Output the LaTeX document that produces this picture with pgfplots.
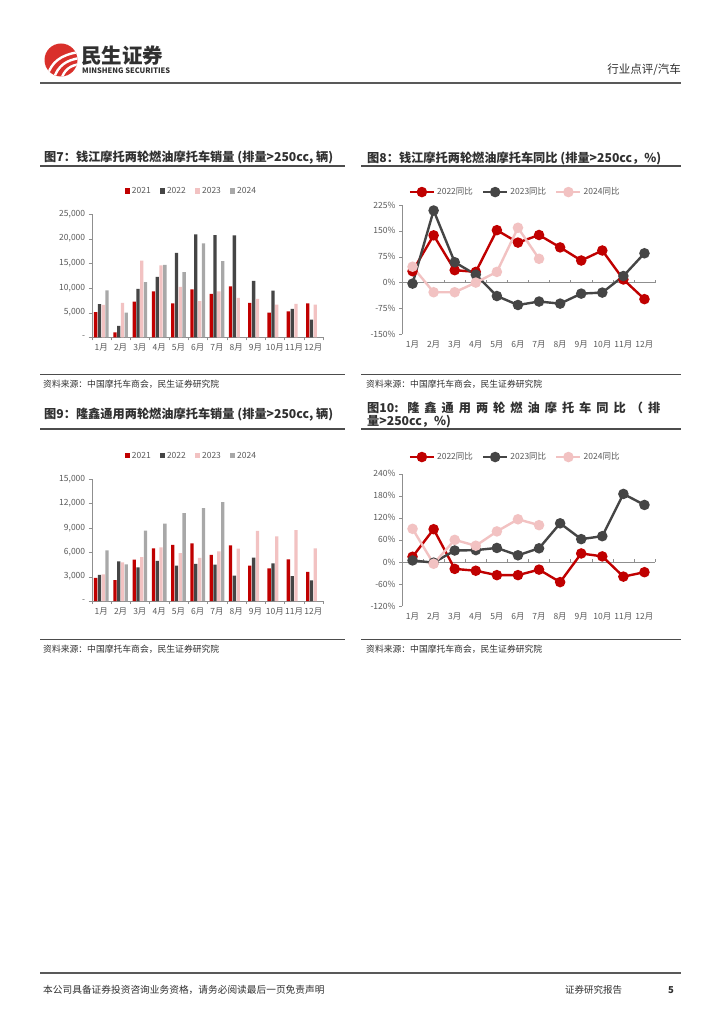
\documentclass[border=0pt]{standalone}
\usepackage{fontspec}
\setmainfont{Noto Sans CJK SC}
\usepackage{graphicx}
\usepackage{pgfplots}
\usepackage{pgfplotstable}
\pgfplotsset{compat=1.18}
\definecolor{cred}{HTML}{C00000}
\definecolor{cdark}{HTML}{454545}
\definecolor{cpink}{HTML}{F2C2C2}
\definecolor{cgray}{HTML}{A8A8A8}
\definecolor{txt}{HTML}{595959}
\definecolor{axc}{HTML}{8F8F8F}
\definecolor{ttl}{HTML}{303030}
\definecolor{logored}{HTML}{D9302B}

\pgfplotstableread{
m a b c d
1 5100 6750 6550 9530
2 1000 2300 6960 5000
3 7230 9800 15540 11200
4 9320 12230 14600 14660
5 6900 17100 10200 13240
6 9730 20880 7360 19050
7 8780 20740 9320 15470
8 10340 20680 7970 nan
9 6960 11420 7770 nan
10 5000 9460 6620 nan
11 5270 5740 6760 nan
12 6900 3580 6620 nan
}\qjbar

\pgfplotstableread{
m a b c d
1 2830 3200 3280 6230
2 2580 4880 4750 4510
3 5080 4140 5410 8650
4 6480 4920 6600 9510
5 6890 4340 5900 10820
6 7090 4550 5290 11430
7 5660 4470 6110 12170
8 6840 3110 6430 nan
9 4340 5330 8610 nan
10 4020 4630 7950 nan
11 5120 3070 8730 nan
12 3570 2540 6480 nan
}\lxbar

\pgfplotstableread{
m a b c
1 33 -3 46
2 137 209 -28
3 36 59 -28
4 31 23 0
5 152 -39 31
6 116 -65 159
7 138 -55 69
8 102 -61 nan
9 64 -32 nan
10 93 -29 nan
11 9 19 nan
12 -48 85 nan
}\qjline

\pgfplotstableread{
m a b c
1 14 4 90
2 89 -2 -5
3 -19 31 60
4 -24 32 44
5 -36 38 83
6 -36 18 116
7 -21 37 100
8 -55 105 nan
9 23 62 nan
10 15 70 nan
11 -40 185 nan
12 -28 155 nan
}\lxline

\pgfplotsset{
  common/.style={
    scale only axis,
    xmin=0.5, xmax=12.5,
    axis y line=left, axis x line=bottom,
    scaled y ticks=false,
    xtick={1,...,12},
    xticklabels={1月,2月,3月,4月,5月,6月,7月,8月,9月,10月,11月,12月},
    tick label style={font=\fontsize{8.5}{9}\selectfont, text=txt},
    tick align=outside,
    major tick length=3pt,
    major x tick style={draw=none},
    ytick style={draw=axc},
    legend style={draw=none, fill=none, font=\fontsize{8.5}{9}\selectfont, text=txt,
      legend columns=-1, anchor=center,
      /tikz/every even column/.append style={column sep=7pt}},
  },
  barchart/.style={common,
    width=231.3pt,
    ymin=0,
    axis line style={draw=axc,-},
    minor xtick={0.5,1.5,...,12.5},
    minor tick length=3pt,
    minor x tick style={draw=axc},
    ybar=0.5pt, bar width=3.3pt,
    legend image code/.code={\fill[##1] (0pt,-2.6pt) rectangle (5.2pt,2.6pt);},
  },
  linechart/.style={common,
    width=253pt,
    x axis line style={draw=none},
    y axis line style={draw=axc,-},
    clip=false,
    legend image code/.code={
      \draw[##1,mark=none] (0pt,0pt) -- (24pt,0pt);
      \draw[##1,only marks] plot coordinates {(12pt,0pt)};},
  },
  lsty/.style={color=#1, line width=2.4pt, mark=*, mark size=4pt, mark options={solid,fill=#1,draw=#1}},
}

\newcommand{\ttlfont}{\fontsize{12.2}{13}\selectfont\bfseries}
\newcommand{\srcfont}{\fontsize{8.8}{10}\selectfont}

\begin{document}
\begin{tikzpicture}[x=1pt,y=1pt]
\useasboundingbox[fill=white] (0,0) rectangle (724,-1024);

% ---------- header ----------
\fill[logored] (61,-60) circle (16.5);
\begin{scope}
\clip (61,-60) circle (16.5);
\draw[white, line width=2.4] (47,-76) .. controls (52,-62) and (60,-55) .. (79,-52);
\draw[white, line width=2.4] (54,-78) .. controls (58,-66) and (66,-60) .. (80,-58);
\draw[white, line width=2.4] (61,-80) .. controls (64,-70) and (70,-65) .. (81,-64);
\end{scope}
\node[anchor=west, inner sep=0, text=ttl, font=\fontsize{20.5}{22}\selectfont\bfseries] at (81,-56) {民生证券};
\node[anchor=west, inner sep=0, text=ttl] at (82,-71) {\resizebox{88pt}{!}{\fontsize{7}{8}\selectfont\bfseries MINSHENG SECURITIES}};
\node[anchor=east, inner sep=0, text=ttl, font=\fontsize{11.5}{12}\selectfont] at (681,-70) {行业点评/汽车};
\draw[line width=1.2, black!65] (40,-83) -- (681,-83);

% ---------- footer ----------
\draw[line width=1.2, black!65] (40,-973) -- (681,-973);
\node[anchor=west, inner sep=0, text=ttl, font=\fontsize{9.7}{10}\selectfont] at (43,-990) {本公司具备证券投资咨询业务资格，请务必阅读最后一页免责声明};
\node[anchor=west, inner sep=0, text=ttl, font=\fontsize{9.5}{10}\selectfont] at (565,-990) {证券研究报告};
\node[anchor=center, inner sep=0, text=ttl, font=\fontsize{9.5}{10}\selectfont\bfseries] at (671,-990) {5};

% ---------- titles and sources ----------
\node[anchor=west, inner sep=0, text=ttl, font=\ttlfont] at (44,-158) {图7：钱江摩托两轮燃油摩托车销量 (排量>250cc, 辆)};
\draw[line width=1.3, black!70] (40,-166) -- (345,-166);
\node[anchor=west, inner sep=0, text=ttl, font=\ttlfont] at (367,-158) {图8：钱江摩托两轮燃油摩托车同比 (排量>250cc，\%)};
\draw[line width=1.3, black!70] (361,-166) -- (681,-166);
\draw[line width=0.9, black!70] (40,-374) -- (345,-374);
\node[anchor=west, inner sep=0, text=ttl, font=\srcfont] at (43,-384) {资料来源：中国摩托车商会，民生证券研究院};
\draw[line width=0.9, black!70] (361,-374) -- (681,-374);
\node[anchor=west, inner sep=0, text=ttl, font=\srcfont] at (366,-384) {资料来源：中国摩托车商会，民生证券研究院};

\node[anchor=west, inner sep=0, text=ttl, font=\ttlfont] at (44,-415) {图9：隆鑫通用两轮燃油摩托车销量 (排量>250cc, 辆)};
\draw[line width=1.3, black!70] (40,-429) -- (345,-429);
\node[anchor=west, inner sep=0, text=ttl, font=\ttlfont] at (367,-408) {\makebox[293pt][s]{图10: \hfill 隆\hfill 鑫\hfill 通\hfill 用\hfill 两\hfill 轮\hfill 燃\hfill 油\hfill 摩\hfill 托\hfill 车\hfill 同\hfill 比\hfill （\hfill 排}};
\node[anchor=west, inner sep=0, text=ttl, font=\ttlfont] at (367,-422) {量>250cc，\%)};
\draw[line width=1.3, black!70] (361,-429) -- (681,-429);
\draw[line width=0.9, black!70] (40,-639) -- (345,-639);
\node[anchor=west, inner sep=0, text=ttl, font=\srcfont] at (43,-649) {资料来源：中国摩托车商会，民生证券研究院};
\draw[line width=0.9, black!70] (361,-639) -- (681,-639);
\node[anchor=west, inner sep=0, text=ttl, font=\srcfont] at (366,-649) {资料来源：中国摩托车商会，民生证券研究院};

% ---------- chart 7 ----------
\begin{axis}[barchart, at={(91.7pt,-337.3pt)}, anchor=south west,
  height=123.3pt, ymax=25000,
  ytick={0,5000,10000,15000,20000,25000},
  yticklabels={-,{5,000},{10,000},{15,000},{20,000},{25,000}},
  legend style={at={(0.431,1.187)}}]
\addplot[fill=cred, draw=none] table[x=m,y=a]{\qjbar};
\addplot[fill=cdark, draw=none] table[x=m,y=b]{\qjbar};
\addplot[fill=cpink, draw=none] table[x=m,y=c]{\qjbar};
\addplot[fill=cgray, draw=none] table[x=m,y=d]{\qjbar};
\legend{2021,2022,2023,2024}
\end{axis}

% ---------- chart 9 ----------
\begin{axis}[barchart, at={(91.7pt,-601pt)}, anchor=south west,
  height=122pt, ymax=15000,
  ytick={0,3000,6000,9000,12000,15000},
  yticklabels={-,{3,000},{6,000},{9,000},{12,000},{15,000}},
  legend style={at={(0.431,1.191)}}]
\addplot[fill=cred, draw=none] table[x=m,y=a]{\lxbar};
\addplot[fill=cdark, draw=none] table[x=m,y=b]{\lxbar};
\addplot[fill=cpink, draw=none] table[x=m,y=c]{\lxbar};
\addplot[fill=cgray, draw=none] table[x=m,y=d]{\lxbar};
\legend{2021,2022,2023,2024}
\end{axis}

% ---------- chart 8 ----------
\begin{axis}[linechart, at={(402pt,-334.3pt)}, anchor=south west,
  height=129.3pt, ymin=-150, ymax=225,
  ytick={-150,-75,0,75,150,225},
  yticklabels={-150\%,-75\%,0\%,75\%,150\%,225\%},
  legend style={at={(0.447,1.10)}}]
\draw[axc] (axis cs:0.5,0) -- (axis cs:12.5,0);
\pgfplotsinvokeforeach{0.5,1.5,...,12.5}{\draw[axc] (axis cs:#1,0) -- ++(0pt,3pt);}
\addplot[lsty=cred] table[x=m,y=a]{\qjline};
\addplot[lsty=cdark] table[x=m,y=b]{\qjline};
\addplot[lsty=cpink] table[x=m,y=c]{\qjline};
\legend{2022同比,2023同比,2024同比}
\end{axis}

% ---------- chart 10 ----------
\begin{axis}[linechart, at={(402pt,-606pt)}, anchor=south west,
  height=132.3pt, ymin=-120, ymax=240,
  ytick={-120,-60,0,60,120,180,240},
  yticklabels={-120\%,-60\%,0\%,60\%,120\%,180\%,240\%},
  legend style={at={(0.447,1.126)}}]
\draw[axc] (axis cs:0.5,0) -- (axis cs:12.5,0);
\pgfplotsinvokeforeach{0.5,1.5,...,12.5}{\draw[axc] (axis cs:#1,0) -- ++(0pt,3pt);}
\addplot[lsty=cred] table[x=m,y=a]{\lxline};
\addplot[lsty=cdark] table[x=m,y=b]{\lxline};
\addplot[lsty=cpink] table[x=m,y=c]{\lxline};
\legend{2022同比,2023同比,2024同比}
\end{axis}
\end{tikzpicture}
\end{document}
